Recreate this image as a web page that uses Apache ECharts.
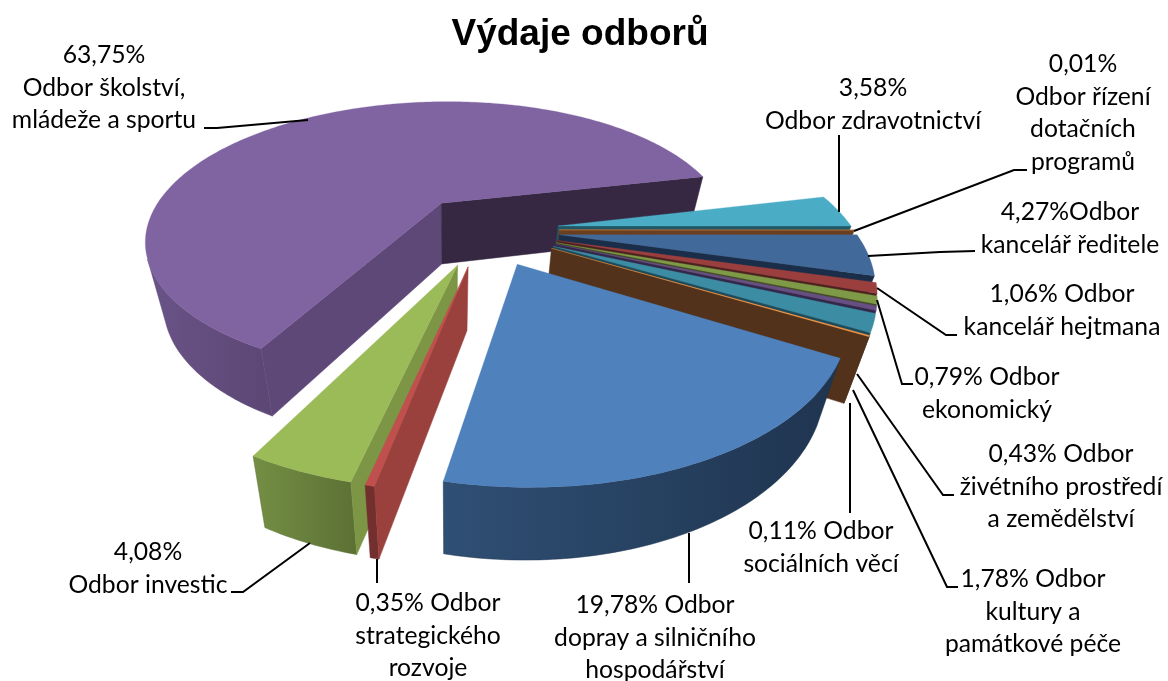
<!DOCTYPE html>
<html><head><meta charset="utf-8">
<style>html,body{margin:0;padding:0;background:#fff}#c{width:1168px;height:681px}</style>
<script src="https://cdn.jsdelivr.net/npm/echarts@6/dist/echarts.min.js"></script>
</head><body><div id="c"></div>
<script>
// ---- data (slice order is clockwise from the first slice)
const categories=["Odbor dopray a silničního hospodářství","Odbor strategického rozvoje","Odbor investic","Odbor školství, mládeže a sportu","Odbor zdravotnictví","Odbor řízení dotačních programů","Odbor kancelář ředitele","Odbor kancelář hejtmana","Odbor ekonomický","Odbor živétního prostředí a zemědělství","Odbor kultury a památkové péče","Odbor sociálních věcí"];
const values=[19.78,0.35,4.08,63.75,3.58,0.01,4.27,1.06,0.79,0.43,1.78,0.11];
const labelTexts=[
 "19,78% Odbor\ndopray a silničního\nhospodářství",
 "0,35% Odbor\nstrategického\nrozvoje",
 "4,08%\nOdbor investic",
 "63,75%\nOdbor školství,\nmládeže a sportu",
 "3,58%\nOdbor zdravotnictví",
 "0,01%\nOdbor řízení\ndotačních\nprogramů",
 "4,27%Odbor\nkancelář ředitele",
 "1,06% Odbor\nkancelář hejtmana",
 "0,79% Odbor\nekonomický",
 "0,43% Odbor\nživétního prostředí\na zemědělství",
 "1,78% Odbor\nkultury a\npamátkové péče",
 "0,11% Odbor\nsociálních věcí"];

// ---- layout and style
const view={a1:295.88,a2:25.04,b1:-11.16,b2:140.52,c1:.02545,c2:-.26529,x0:484.73,y0:229.83,explode:.25102,startAngle:.61117,depth:62,depthPow:.4,vanishX:450,converge:.06};
const paintOrder=[3,4,5,6,7,8,9,10,11,2,1,0];
const topColors=['#4F81BD','#C0504D','#9BBB59','#8064A2','#4BACC6','#F79646','#416A9A','#9A3F3D','#7E9A47','#674F83','#3C8DA3','#F79646'];
const startWall=['#1F344F','#9A403D','#7C9645','#5E4878','#205867','#6A3F1F','#1A2E4A','#4A1F1E','#3E4A22','#33274A','#1C4A58','#52321A'];
const endWall=['#2F4F74','#722F2D','#5C7035','#362842','#205867','#6A3F1F','#1A2E4A','#4A1F1E','#3E4A22','#33274A','#1C4A58','#52321A'];
const outerColors=[['#2F4F74','#1F344F'],['#722F2D','#722F2D'],['#748F44','#5C7035'],['#6A5488','#5C4674'],['#205867','#205867'],['#6A3F1F','#6A3F1F'],['#1A2E4A','#1A2E4A'],['#4A1F1E','#4A1F1E'],['#3E4A22','#3E4A22'],['#33274A','#33274A'],['#1C4A58','#1C4A58'],['#52321A','#52321A']];
const labelAnchors=[[655,605],[428,603],[148,552],[104,55],[873,88],[1083,64],[1070,212],[1062,294],[987,377],[1061,454],[1033,579],[821,531]];
const leaderLines=[
 [[689,583],[689,533]],[[377,583],[377,559]],[[231,592],[243,592],[310,543]],
 [[204,128],[217,128],[308,120]],[[839,135],[839,212]],[[1027,170],[1014,170],[854,231]],
 [[975,251],[940,252],[868,256]],[[957,335],[946,335],[877,288]],[[913,384],[902,384],[877,300]],
 [[954,495],[943,495],[857,374]],[[958,587],[947,587],[853,390]],[[850,513],[850,403]]];
const LINE=32.7, FONT='24.7px Lato, "Open Sans", sans-serif';

// ---- projection of the tilted pie
const total=values.reduce((a,b)=>a+b,0);
const angles=[];{let s=view.startAngle;for(const v of values){const e=s+v/total*2*Math.PI;angles.push([s,e,(s+e)/2]);s=e;}}
function project(u,v,low){
 const W=1+view.c1*u+view.c2*v;
 let x=(view.a1*u+view.a2*v)/W+view.x0, y=(view.b1*u+view.b2*v)/W+view.y0;
 if(low){y+=view.depth*Math.pow(W,-view.depthPow);x+=(view.vanishX-x)*view.converge;}
 return [x,y];
}
function sliceItem(params,api){
 const i=api.value(0), a=angles[i];
 const ox=view.explode*Math.cos(a[2]), oy=view.explode*Math.sin(a[2]);
 const rim=t=>[ox+Math.cos(t),oy+Math.sin(t)];
 const n=Math.max(2,Math.ceil((a[1]-a[0])*60));
 const ts=[];for(let k=0;k<=n;k++)ts.push(a[0]+(a[1]-a[0])*k/n);
 const topArc=ts.map(t=>project(...rim(t))), lowArc=ts.map(t=>project(...rim(t),true));
 const A=project(ox,oy), Al=project(ox,oy,true), I=project(ox+.5*Math.cos(a[2]),oy+.5*Math.sin(a[2]));
 const kids=[];
 const cross=(p,q,r)=>(q[0]-p[0])*(r[1]-p[1])-(q[1]-p[1])*(r[0]-p[0]);
 // outer rim wall: only the part that faces the viewer
 const run=[];
 for(let k=0;k<n;k++){const p=topArc[k],q=topArc[k+1];if(cross(p,q,A)*cross(p,q,lowArc[k])<0)run.push(k);}
 if(run.length){
  const idx=[...run,run[run.length-1]+1];
  const pts=idx.map(k=>topArc[k]).concat(idx.slice().reverse().map(k=>lowArc[k]));
  kids.push({type:'polygon',shape:{points:pts},style:{fill:new echarts.graphic.LinearGradient(0,0,1,0,[{offset:0,color:outerColors[i][0]},{offset:1,color:outerColors[i][1]}]),stroke:outerColors[i][1],lineWidth:.5}});
 }
 // radial cut walls
 [[topArc[0],lowArc[0],startWall[i]],[topArc[n],lowArc[n],endWall[i]]].forEach(([B,Bl,col])=>{
  if(cross(A,B,I)*cross(A,B,Al)<0)kids.push({type:'polygon',shape:{points:[A,B,Bl,Al]},style:{fill:col,stroke:col,lineWidth:.5}});
 });
 // top face
 kids.push({type:'polygon',shape:{points:[A,...topArc]},style:{fill:topColors[i],stroke:topColors[i],lineWidth:.3}});
 return {type:'group',children:kids};
}
const chart=echarts.init(document.getElementById('c'));
const graphic=[];
leaderLines.forEach(l=>graphic.push({type:'polyline',z:50,shape:{points:l},style:{stroke:'#000',lineWidth:2,fill:null}}));
labelTexts.forEach((t,i)=>t.split('\n').forEach((s,j)=>graphic.push({type:'text',z:50,style:{text:s,x:labelAnchors[i][0],y:labelAnchors[i][1]+j*LINE,font:FONT,fill:'#000',align:'center',verticalAlign:'middle'}})));
chart.setOption({
 animation:false,
 title:{text:'Výdaje odborů',left:575,top:11,textAlign:'center',textStyle:{fontFamily:'"Liberation Sans",Arial,sans-serif',fontSize:37,fontWeight:'bold',color:'#000'}},
 graphic:graphic,
 series:[{type:'custom',coordinateSystem:'none',renderItem:sliceItem,silent:true,
  dimensions:['slice','share'],encode:{itemName:0,value:1},
  data:paintOrder.map(i=>({name:categories[i],value:[i,values[i]]}))}]
});
</script></body></html>
